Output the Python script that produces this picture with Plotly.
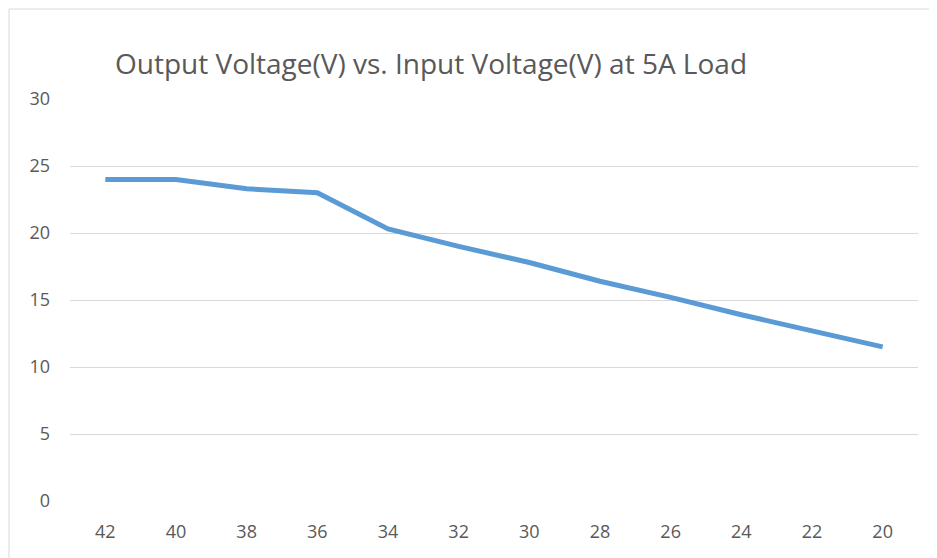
import plotly.graph_objects as go

input_voltage = ["42", "40", "38", "36", "34", "32", "30", "28", "26", "24", "22", "20"]
output_voltage = [24.0, 24.0, 23.3, 23.0, 20.3, 19.0, 17.8, 16.4, 15.2, 13.9, 12.7, 11.5]
y_ticks = [0, 5, 10, 15, 20, 25, 30]
title_text = "Output Voltage(V) vs. Input Voltage(V) at 5A Load"

font_family = "Open Sans, sans-serif"
grey = "#595959"

W, H = 937, 558
L, T, PW, PH = 62, 91, 848, 402

fig = go.Figure()
fig.add_trace(go.Scatter(
    x=input_voltage, y=output_voltage, mode="lines",
    line=dict(color="#5b9bd5", width=5),
    showlegend=False, hoverinfo="x+y",
))

fig.update_layout(
    width=W, height=H,
    margin=dict(l=L, r=W - L - PW, t=T, b=H - T - PH),
    paper_bgcolor="white", plot_bgcolor="white",
    title=dict(text=title_text, x=423 / W, xanchor="center", xref="container",
               y=1 - 56 / H, yanchor="middle", yref="container",
               font=dict(family=font_family, size=28, color=grey)),
    xaxis=dict(type="category", range=[-0.5, 11.5], showgrid=False,
               showline=False, zeroline=False, ticks="",
               tickfont=dict(family=font_family, size=18, color=grey),
               ticklabelstandoff=18),
    yaxis=dict(range=[0, 30], tickvals=y_ticks, showgrid=True,
               gridcolor="#d9d9d9", gridwidth=1, zeroline=False,
               showline=False, ticks="",
               tickfont=dict(family=font_family, size=18, color=grey),
               ticklabelstandoff=19),
    shapes=[dict(type="rect", xref="paper", yref="paper",
                 x0=(1 - L) / PW, x1=(W + 20 - L) / PW,
                 y0=(T + PH - H - 20) / PH, y1=(T + PH - 1) / PH,
                 line=dict(color="#d9d9d9", width=1), layer="below")],
)

fig.write_html("out.html")
